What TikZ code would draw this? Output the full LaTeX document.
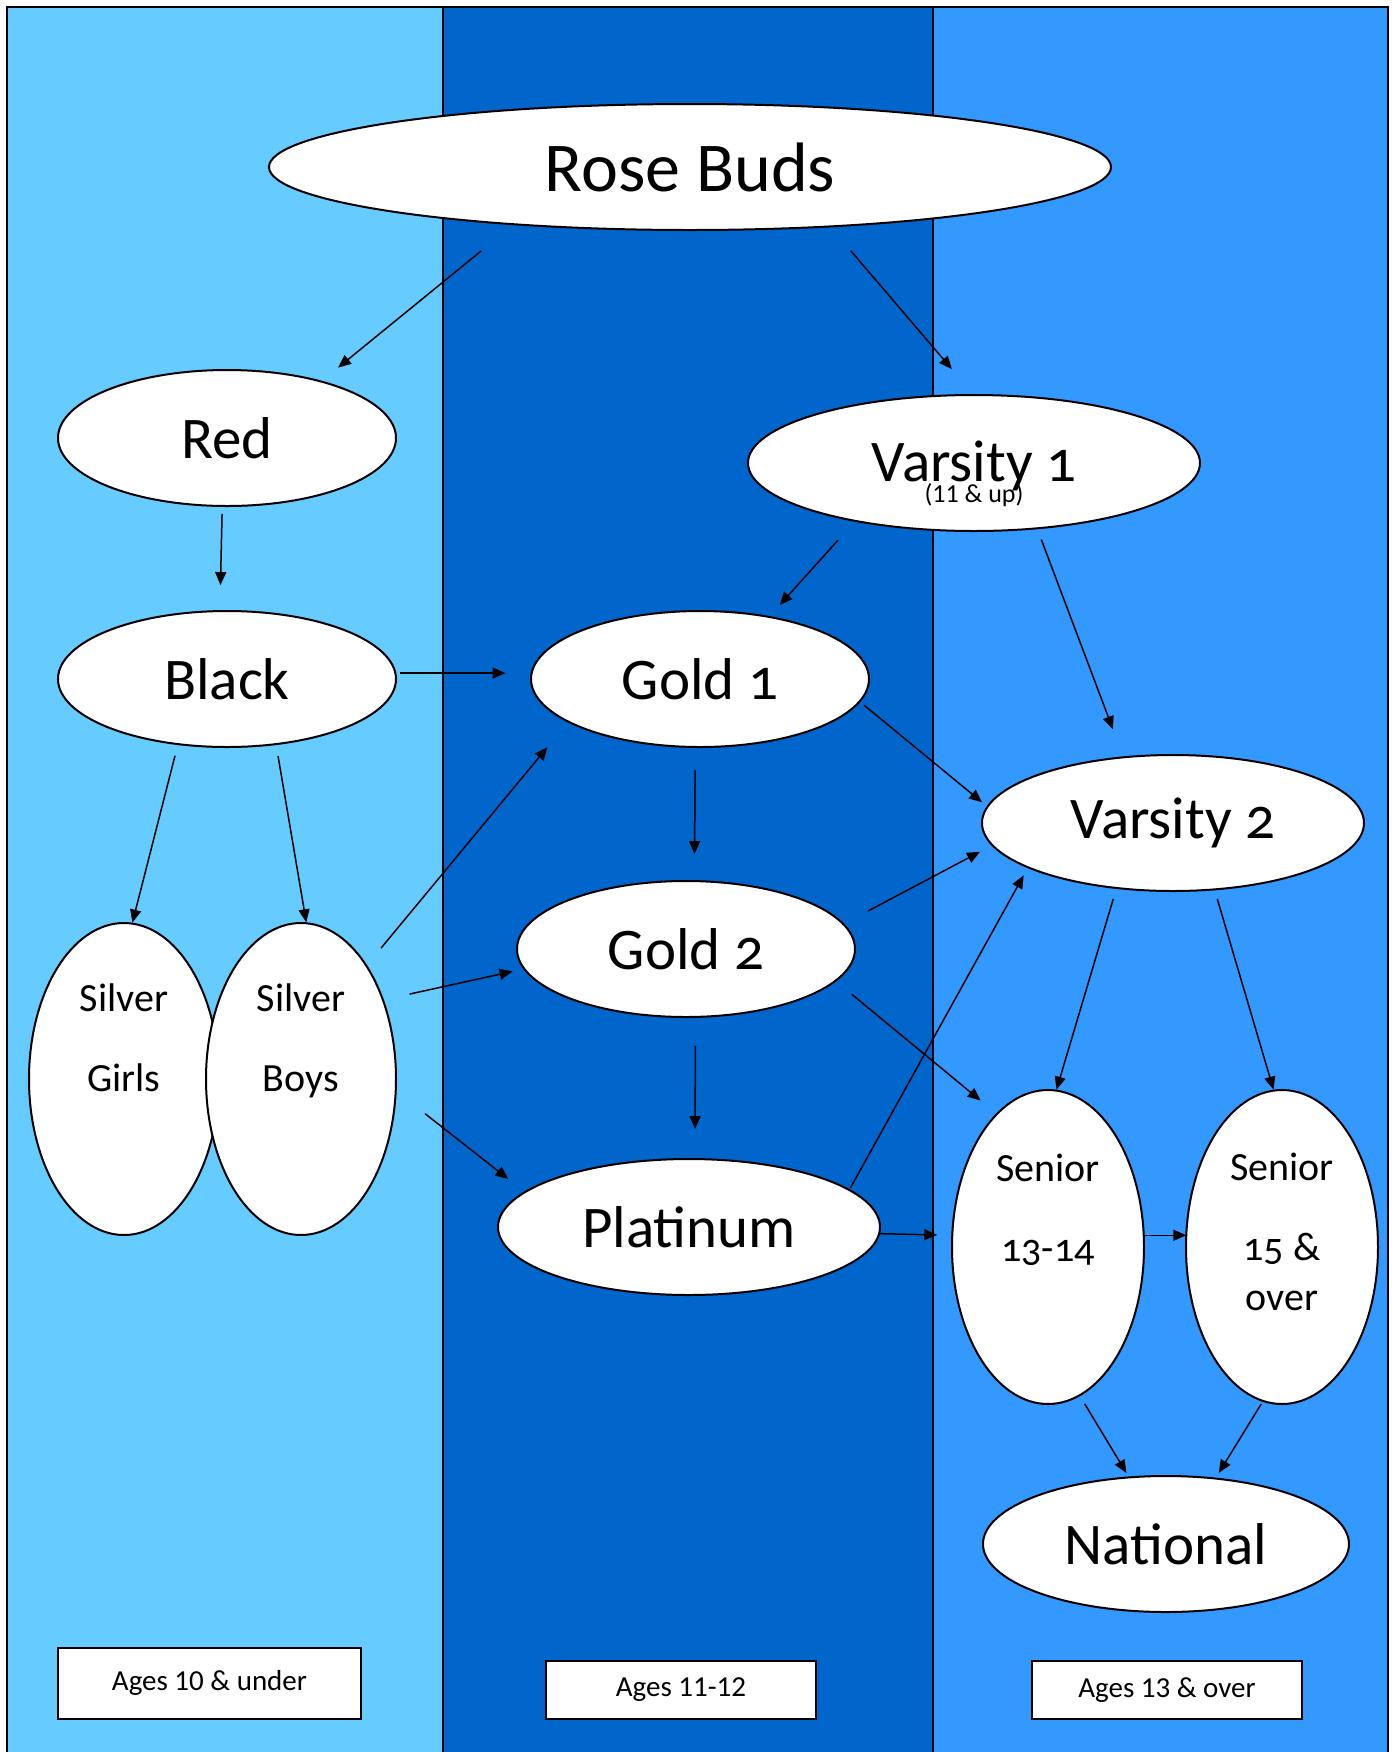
\documentclass[tikz,border=0pt]{standalone}
\usepackage{fontspec}
\setmainfont{Carlito}
\newfontfamily\bubblefont{Carlito}[Numbers=OldStyle]
\usepackage{tikz}
\usetikzlibrary{shapes.geometric}
\usetikzlibrary{arrows.meta}
\usetikzlibrary{positioning}
\tikzstyle{flow} = [draw, -{Triangle[length=6.5pt, width=5.5pt]}, line width=0.75pt]
\definecolor{leftband}{HTML}{66CCFF}
\definecolor{midband}{HTML}{0066CC}
\definecolor{rightband}{HTML}{3399FF}

\begin{document}
\begin{tikzpicture}[x=0.5pt, y=-0.5pt,
				bubble/.style={ellipse, draw, fill=white, line width=1pt, inner sep=0pt, outer sep=0pt},
				big/.style={bubble, font=\bubblefont\fontsize{29.5}{35}\selectfont, minimum height=68pt},
				tall/.style={bubble, font=\bubblefont\fontsize{20}{40}\selectfont, minimum width=96pt, minimum height=157pt},
				agebox/.style={draw, fill=white, line width=1pt, inner sep=0pt, font=\fontsize{14.5}{17}\selectfont},
				every text node part/.style={align=center}]
				\useasboundingbox (0,0) rectangle (1395,1752);
				\filldraw[fill=leftband, line width=0.75pt] (7,7) rectangle (443,1770);
				\filldraw[fill=midband, line width=0.75pt] (443,7) rectangle (933,1770);
				\filldraw[fill=rightband, line width=0.75pt] (933,7) rectangle (1388,1770);
				
				\node[bubble, minimum width=421pt, minimum height=63pt, font=\bubblefont\fontsize{35}{42}\selectfont](rosebuds) at (690,167) {Rose Buds};
				\node[big, minimum width=169pt](red) at (227,438) {Red};
				\node[big, minimum width=226pt, text height=40pt, text depth=1pt](varsity1) at (974,463) {Varsity 1\\[-24.5pt]{\rmfamily\fontsize{13}{15}\selectfont (11 \& up)}};
				\node[big, minimum width=169pt](black) at (227,679) {Black};
				\node[big, minimum width=169pt](gold1) at (700,679) {Gold 1};
				\node[big, minimum width=191pt](varsity2) at (1173,823) {Varsity 2};
				\node[big, minimum width=169pt](gold2) at (686,949) {Gold 2};
				\node[tall, minimum width=95pt, minimum height=156pt, text height=50pt, text depth=38pt](silvergirls) at (124,1079) {Silver\\Girls};
				\node[tall, minimum width=95pt, minimum height=156pt, text height=50pt, text depth=38pt, right=-6.5pt of silvergirls](silverboys) {Silver\\Boys};
				\node[big, minimum width=191pt](platinum) at (689,1227) {Platinum};
				\node[tall, text height=50pt, text depth=36pt](senior1) at (1048,1247) {Senior\\13-14};
				\node[tall, text height=70pt, text depth=7pt, right=21pt of senior1](senior2) {Senior\\15 \&\\[-15pt]over};
				\node[big, minimum width=183pt](national) at (1166,1544) {National};
				
				\node[agebox, minimum width=151.5pt, minimum height=35.5pt](ages1) at (209.5,1683) {Ages 10 \& under};
				\node[agebox, minimum width=135pt, minimum height=29pt](ages2) at (681,1690) {Ages 11-12};
				\node[agebox, minimum width=135pt, minimum height=29pt](ages3) at (1167,1690) {Ages 13 \& over};
				
				\draw[flow, shorten <=21pt, shorten >=11pt] (rosebuds.198) -- (red.31);
				\draw[flow, shorten <=16pt, shorten >=17pt] (rosebuds.337) -- (varsity1.90);
				\draw[flow, shorten <=4pt, shorten >=13pt] (red.266) -- (black.96);
				\draw[flow, shorten <=13pt, shorten >=8pt] (varsity1.206) -- (gold1.42);
				\draw[flow, shorten <=6pt, shorten >=15pt] (varsity1.314) -- (varsity2.127);
				\draw[flow, shorten <=2.5pt, shorten >=13pt] (black.2) -- (gold1.178);
				\draw[flow, shorten <=3pt, shorten >=3.5pt] (gold1.352) -- (varsity2.175);
				\draw[flow, shorten <=6pt, shorten >=0.5pt] (black.233) -- (silvergirls.87);
				\draw[flow, shorten <=6pt, shorten >=0.5pt] (black.307) -- (silverboys.88);
				\draw[flow, shorten <=11.5pt, shorten >=16.5pt] (silverboys.60) -- (gold1.198);
				\draw[flow, shorten <=11.5pt, shorten >=13.5pt] (gold1.266) -- (gold2.83);
				\draw[flow, shorten <=14pt, shorten >=7pt] (gold2.9) -- (varsity2.187);
				\draw[flow, shorten <=13.7pt, shorten >=6pt] (silverboys.44) -- (gold2.187);
				\draw[flow, shorten <=10.6pt, shorten >=10.6pt] (gold2.348) -- (senior1.111);
				\draw[flow, shorten <=14.5pt, shorten >=15pt] (gold2.278) -- (platinum.85);
				\draw[flow, shorten <=18.6pt, shorten >=10.6pt] (silverboys.353) -- (platinum.168);
				\draw[flow, shorten <=1.3pt, shorten >=4.6pt] (platinum.13) -- (varsity2.197);
				\draw[flow, shorten <=0.5pt, shorten >=7.5pt] (platinum.358) -- (senior1.173);
				\draw[flow, shorten <=5.7pt, shorten >=0.5pt] (varsity2.229) -- (senior1.87);
				\draw[flow, shorten <=5pt, shorten >=0.5pt] (varsity2.302) -- (senior2.93);
				\draw[flow] (senior1.7) -- (senior2.173);
				\draw[flow, shorten <=5pt, shorten >=2.6pt] (senior1.282) -- (national.119);
				\draw[flow, shorten <=1.8pt, shorten >=3.3pt] (senior2.263) -- (national.53);
			\end{tikzpicture}
\end{document}
